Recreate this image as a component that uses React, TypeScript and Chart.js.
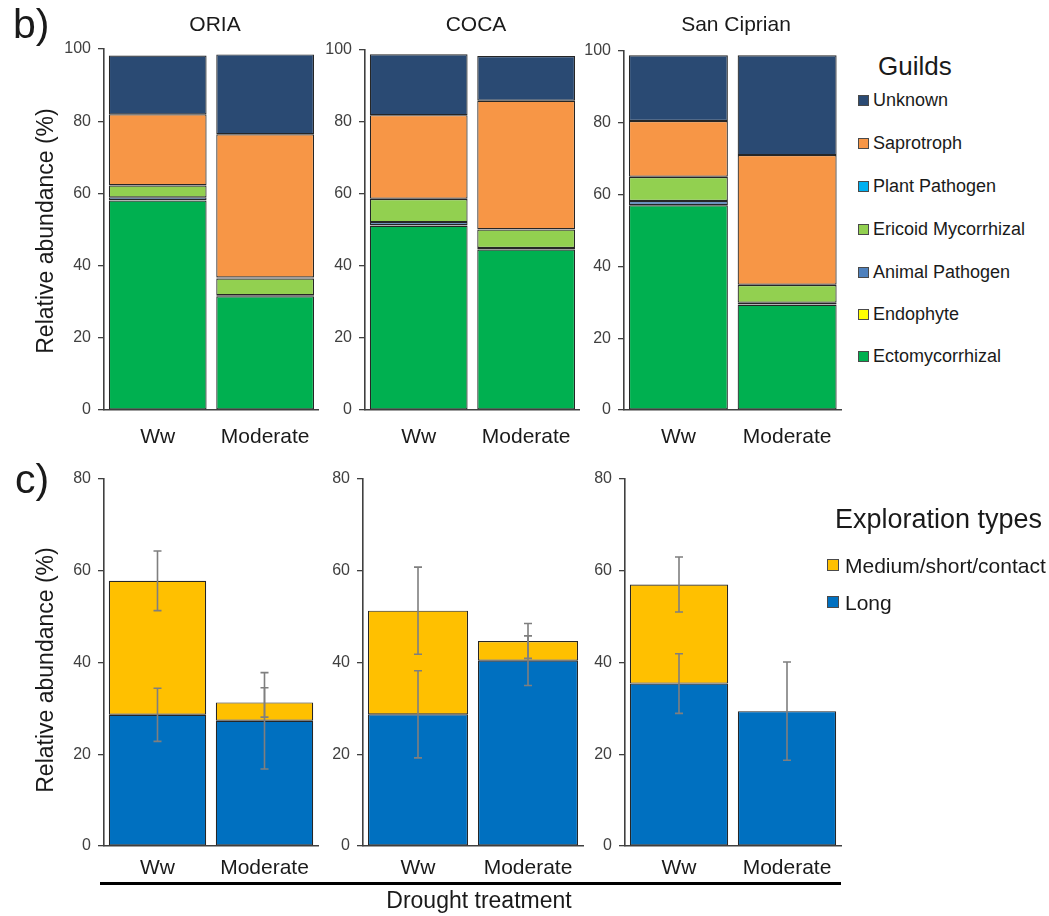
import React, { useEffect, useRef } from "react";
import { Chart, registerables } from "chart.js";

Chart.register(...registerables);

const FONT = "'Liberation Sans', Arial, Helvetica, sans-serif";

// Categories
const treatments = ["Ww", "Moderate"];
const sites = ["ORIA", "COCA", "San Ciprian"];

// Guilds, stacked from the bottom up
const guildNames = [
  "Ectomycorrhizal",
  "Endophyte",
  "Animal Pathogen",
  "Ericoid Mycorrhizal",
  "Plant Pathogen",
  "Saprotroph",
  "Unknown",
];
const guildColors = ["#00b050", "#ffff00", "#4f81bd", "#92d050", "#00b0f0", "#f79646", "#2a4a73"];

// Guild relative abundance (%), order: ORIA Ww, ORIA Moderate, COCA Ww, COCA Moderate, San Ciprian Ww, San Ciprian Moderate
const ectomycorrhizal = [58.0, 31.5, 51.2, 44.6, 57.0, 29.3];
const endophyte = [0.1, 0.1, 0.1, 0.1, 0.1, 0.1];
const animalPathogen = [0.8, 0.2, 0.9, 0.3, 1.1, 0.5];
const ericoidMycorrhizal = [3.3, 4.6, 6.4, 5.1, 6.7, 4.9];
const plantPathogen = [0.1, 0.3, 0.1, 0.1, 0.1, 0.1];
const saprotroph = [19.6, 39.7, 23.2, 35.7, 15.5, 36.1];
const unknownGuild = [16.3, 22.1, 16.9, 12.4, 18.3, 27.8];
const guildSeries = [ectomycorrhizal, endophyte, animalPathogen, ericoidMycorrhizal, plantPathogen, saprotroph, unknownGuild];

// Exploration types (%), same site/treatment order, with error bar half-widths
const explorationNames = ["Long", "Medium/short/contact"];
const explorationColors = ["#0070c0", "#ffc000"];
const longValues = [28.6, 27.3, 28.7, 40.4, 35.4, 29.4];
const longErrors = [5.8, 10.5, 9.5, 5.4, 6.5, 10.7];
const mediumValues = [29.2, 4.0, 22.6, 4.3, 21.6, 0];
const mediumErrors = [6.5, 3.2, 9.5, 3.8, 6.0, 0];

const guildTicks = [0, 20, 40, 60, 80, 100];
const explorationTicks = [0, 20, 40, 60, 80];

const YW = 70; // y-axis box width
const XH = 50; // x-axis box height
const PAD_TOP = 20;
const PAD_RIGHT = 6;

type Area = { left: number; right: number; top: number; bottom: number };

function pick(arr: number[], site: number) {
  return [arr[site * 2], arr[site * 2 + 1]];
}

function makeErrorPlugin(errors: (number[] | null)[]) {
  return {
    id: "errorBars",
    afterDatasetsDraw(chart: any) {
      const ctx = chart.ctx;
      const yScale = chart.scales.y;
      const cap = 4;
      ctx.save();
      ctx.strokeStyle = "#7f7f7f";
      ctx.lineWidth = 1.6;
      chart.data.datasets.forEach((_ds: any, i: number) => {
        const e = errors[i];
        if (!e) return;
        const meta = chart.getDatasetMeta(i);
        meta.data.forEach((bar: any, j: number) => {
          const err = e[j];
          if (!err) return;
          let top = 0;
          for (let k = 0; k <= i; k++) top += chart.data.datasets[k].data[j];
          const x = bar.x;
          const y1 = yScale.getPixelForValue(top + err);
          const y2 = yScale.getPixelForValue(top - err);
          ctx.beginPath();
          ctx.moveTo(x, y1);
          ctx.lineTo(x, y2);
          ctx.moveTo(x - cap, y1);
          ctx.lineTo(x + cap, y1);
          ctx.moveTo(x - cap, y2);
          ctx.lineTo(x + cap, y2);
          ctx.stroke();
        });
      });
      ctx.restore();
    },
  };
}

type PanelProps = {
  area: Area;
  datasets: { label: string; data: number[]; color: string }[];
  max: number;
  ticks: number[];
  xPad: number;
  errors?: (number[] | null)[];
};

function Panel({ area, datasets, max, ticks, xPad, errors }: PanelProps) {
  const ref = useRef<HTMLCanvasElement | null>(null);
  const width = YW + (area.right - area.left) + PAD_RIGHT;
  const height = PAD_TOP + (area.bottom - area.top) + XH;

  useEffect(() => {
    if (!ref.current) return;
    const chart = new Chart(ref.current, {
      type: "bar",
      data: {
        labels: treatments,
        datasets: datasets.map((d) => ({
          label: d.label,
          data: d.data,
          backgroundColor: d.color,
          borderColor: "#262626",
          borderWidth: 1.2,
          borderSkipped: false,
          barPercentage: 0.91,
          categoryPercentage: 1.0,
        })),
      },
      options: {
        responsive: false,
        animation: false,
        devicePixelRatio: 1,
        layout: { padding: { top: PAD_TOP, right: PAD_RIGHT, left: 0, bottom: 0 } },
        plugins: { legend: { display: false }, tooltip: { enabled: false } },
        scales: {
          x: {
            stacked: true,
            grid: { display: false, drawTicks: false },
            border: { display: true, color: "#404040", width: 1.6 },
            ticks: { font: { family: FONT, size: 21 }, color: "#1a1a1a", padding: xPad },
            afterFit: (s: any) => {
              s.height = XH;
            },
          },
          y: {
            stacked: true,
            min: 0,
            max,
            afterBuildTicks: (s: any) => {
              s.ticks = ticks.map((v) => ({ value: v }));
            },
            ticks: { font: { family: FONT, size: 16 }, color: "#404040", padding: 7 },
            grid: { drawOnChartArea: false, drawTicks: true, tickLength: 6, color: "#404040", lineWidth: 1.3 },
            border: { display: true, color: "#404040", width: 1.6 },
            afterFit: (s: any) => {
              s.width = YW;
            },
          },
        },
      },
      plugins: errors ? [makeErrorPlugin(errors)] : [],
    } as any);
    return () => chart.destroy();
  }, []);

  return (
    <canvas
      ref={ref}
      width={width}
      height={height}
      style={{ position: "absolute", left: area.left - YW, top: area.top - PAD_TOP, width, height }}
    />
  );
}

const guildAreas: Area[] = [
  { left: 104, right: 320, top: 49, bottom: 410 },
  { left: 365, right: 581, top: 50, bottom: 410 },
  { left: 624, right: 842, top: 51, bottom: 410 },
];
const explorationAreas: Area[] = [
  { left: 104, right: 318, top: 479, bottom: 846 },
  { left: 363, right: 583, top: 479, bottom: 846 },
  { left: 625, right: 841, top: 479, bottom: 846 },
];
const titleCenters = [215, 476, 736];

const text = (style: React.CSSProperties): React.CSSProperties => ({
  position: "absolute",
  fontFamily: FONT,
  whiteSpace: "nowrap",
  lineHeight: 1,
  color: "#1a1a1a",
  ...style,
});

function Swatch({ color, size }: { color: string; size: number }) {
  return (
    <span
      style={{
        display: "inline-block",
        width: size,
        height: size,
        boxSizing: "border-box",
        background: color,
        border: "1px solid #4a4a4a",
      }}
    />
  );
}

export default function App() {
  const guildLegendOrder = [6, 5, 4, 3, 2, 1, 0];
  const guildLegendY = [100, 143, 186, 229, 272, 314, 356];
  const explLegendOrder = [1, 0];
  const explLegendY = [565, 602];

  return (
    <div style={{ position: "absolute", left: 0, top: 0, width: 1049, height: 916, background: "#fff", overflow: "hidden" }}>
      {sites.map((s, i) => (
        <Panel
          key={"g" + s}
          area={guildAreas[i]}
          max={100}
          ticks={guildTicks}
          xPad={15}
          datasets={guildNames.map((n, k) => ({ label: n, data: pick(guildSeries[k], i), color: guildColors[k] }))}
        />
      ))}
      {sites.map((s, i) => (
        <Panel
          key={"e" + s}
          area={explorationAreas[i]}
          max={80}
          ticks={explorationTicks}
          xPad={10}
          datasets={[
            { label: explorationNames[0], data: pick(longValues, i), color: explorationColors[0] },
            { label: explorationNames[1], data: pick(mediumValues, i), color: explorationColors[1] },
          ]}
          errors={[pick(longErrors, i), pick(mediumErrors, i)]}
        />
      ))}

      <div style={text({ left: 13, top: 4, fontSize: 41 })}>b)</div>
      <div style={text({ left: 15, top: 459, fontSize: 41 })}>c)</div>

      {sites.map((s, i) => (
        <div key={"t" + s} style={text({ left: titleCenters[i], top: 13, fontSize: 21, transform: "translateX(-50%)" })}>
          {s}
        </div>
      ))}

      <div style={text({ left: 45, top: 231, fontSize: 23, transform: "translate(-50%, -50%) rotate(-90deg)" })}>
        Relative abundance (%)
      </div>
      <div style={text({ left: 45, top: 670, fontSize: 23, transform: "translate(-50%, -50%) rotate(-90deg)" })}>
        Relative abundance (%)
      </div>

      <div style={text({ left: 878, top: 53, fontSize: 26 })}>Guilds</div>
      {guildLegendOrder.map((k, r) => (
        <div
          key={"gl" + k}
          style={text({ left: 858, top: guildLegendY[r] - 10, height: 20, fontSize: 18, display: "flex", alignItems: "center", gap: 4 })}
        >
          <Swatch color={guildColors[k]} size={11} />
          <span>{guildNames[k]}</span>
        </div>
      ))}

      <div style={text({ left: 835, top: 506, fontSize: 27 })}>Exploration types</div>
      {explLegendOrder.map((k, r) => (
        <div
          key={"el" + k}
          style={text({ left: 827, top: explLegendY[r] - 12, height: 24, fontSize: 21, display: "flex", alignItems: "center", gap: 6 })}
        >
          <Swatch color={explorationColors[k]} size={12} />
          <span>{explorationNames[k]}</span>
        </div>
      ))}

      <div style={{ position: "absolute", left: 100, top: 882, width: 741, height: 3, background: "#000" }} />
      <div style={text({ left: 479, top: 889, fontSize: 23, transform: "translateX(-50%)" })}>Drought treatment</div>
    </div>
  );
}
